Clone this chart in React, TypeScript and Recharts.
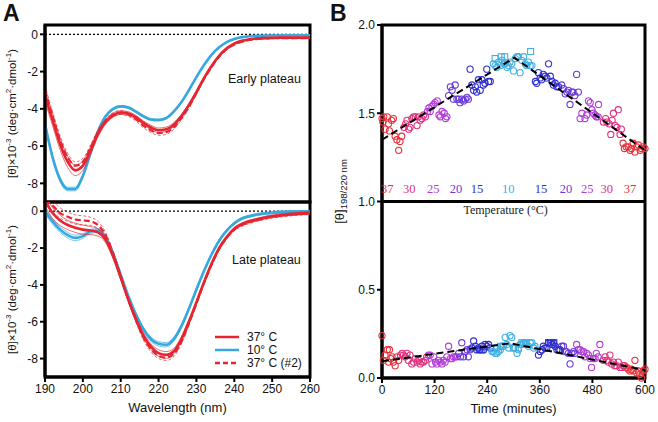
import React from "react";
import {
  LineChart,
  Line,
  XAxis,
  YAxis,
  ReferenceLine,
  ReferenceArea,
  ScatterChart,
  Scatter,
} from "recharts";

const FONT = '"Liberation Sans", Arial, sans-serif';
const SERIF = '"Liberation Serif", "DejaVu Serif", serif';
const RED = "#e52531";
const BLUE = "#36a8e0";

// ---- panel A: CD spectra ----
const wavelengths = [
  190, 192, 194, 196, 198, 200, 202, 204, 206, 208, 210, 212, 214, 216, 218, 220, 222, 224,
  226, 228, 230, 232, 234, 236, 238, 240, 242, 244, 246, 248, 250, 252, 254, 256, 258, 260,
];

const early37 = [
  -3.3, -4.6, -5.9, -6.85, -7.3, -7.05, -6.25, -5.35, -4.7, -4.35, -4.2, -4.25, -4.45, -4.75, -5.0, -5.15, -5.1, -4.85,
  -4.4, -3.8, -3.1, -2.35, -1.7, -1.15, -0.75, -0.5, -0.35, -0.27, -0.22, -0.2, -0.19, -0.18, -0.18, -0.18, -0.18, -0.18,
];
const early37Err = [
  0.3, 0.3, 0.3, 0.3, 0.28, 0.25, 0.2, 0.15, 0.12, 0.1, 0.1, 0.1, 0.1, 0.1, 0.12, 0.12, 0.12, 0.1,
  0.1, 0.08, 0.08, 0.06, 0.05, 0.05, 0.04, 0.04, 0.03, 0.03, 0.03, 0.03, 0.03, 0.03, 0.03, 0.03, 0.03, 0.03,
];
const early10 = [
  -4.8, -6.6, -7.8, -8.3, -8.3, -7.6, -6.4, -5.2, -4.4, -4.0, -3.87, -3.93, -4.15, -4.4, -4.57, -4.6, -4.5, -4.15,
  -3.65, -3.0, -2.3, -1.65, -1.1, -0.7, -0.42, -0.25, -0.15, -0.1, -0.08, -0.07, -0.06, -0.06, -0.05, -0.05, -0.05, -0.05,
];
const early10Err = [
  0.12, 0.12, 0.12, 0.1, 0.1, 0.1, 0.08, 0.06, 0.05, 0.05, 0.05, 0.05, 0.05, 0.05, 0.05, 0.05, 0.05, 0.05,
  0.04, 0.04, 0.04, 0.03, 0.03, 0.03, 0.02, 0.02, 0.02, 0.02, 0.02, 0.02, 0.02, 0.02, 0.02, 0.02, 0.02, 0.02,
];
const early37b = [
  -3.0, -4.4, -5.7, -6.6, -7.05, -6.85, -6.1, -5.25, -4.65, -4.3, -4.2, -4.3, -4.55, -4.9, -5.15, -5.3, -5.25, -5.0,
  -4.5, -3.9, -3.15, -2.4, -1.75, -1.2, -0.8, -0.55, -0.4, -0.3, -0.25, -0.22, -0.21, -0.2, -0.2, -0.2, -0.2, -0.2,
];
const early37bErr = [
  0.25, 0.25, 0.25, 0.22, 0.2, 0.18, 0.15, 0.12, 0.1, 0.1, 0.1, 0.1, 0.1, 0.12, 0.12, 0.12, 0.12, 0.1,
  0.1, 0.08, 0.06, 0.05, 0.05, 0.04, 0.04, 0.03, 0.03, 0.03, 0.03, 0.03, 0.03, 0.03, 0.03, 0.03, 0.03, 0.03,
];

const late37 = [
  0.6, -0.1, -0.5, -0.75, -0.9, -1.0, -1.05, -1.15, -1.55, -2.45, -3.6, -4.8, -5.85, -6.75, -7.35, -7.7, -7.8, -7.6,
  -6.95, -6.0, -4.95, -3.85, -2.85, -2.0, -1.4, -0.95, -0.7, -0.55, -0.45, -0.35, -0.28, -0.22, -0.18, -0.15, -0.12, -0.1,
];
const late37Err = [
  0.3, 0.3, 0.28, 0.25, 0.25, 0.25, 0.22, 0.2, 0.15, 0.12, 0.1, 0.1, 0.12, 0.15, 0.15, 0.18, 0.18, 0.15,
  0.12, 0.1, 0.1, 0.08, 0.08, 0.07, 0.07, 0.07, 0.07, 0.07, 0.07, 0.07, 0.07, 0.07, 0.07, 0.07, 0.07, 0.07,
];
const late10 = [
  0.0, -0.55, -1.0, -1.3, -1.45, -1.35, -1.1, -1.05, -1.4, -2.3, -3.45, -4.6, -5.6, -6.4, -6.95, -7.2, -7.25, -6.95,
  -6.25, -5.3, -4.25, -3.25, -2.35, -1.6, -1.05, -0.65, -0.4, -0.27, -0.18, -0.12, -0.08, -0.05, -0.03, -0.02, -0.02, -0.02,
];
const late10Err = [
  0.15, 0.15, 0.15, 0.15, 0.15, 0.12, 0.12, 0.1, 0.1, 0.08, 0.08, 0.08, 0.1, 0.1, 0.12, 0.12, 0.12, 0.1,
  0.1, 0.08, 0.08, 0.07, 0.07, 0.06, 0.06, 0.06, 0.06, 0.06, 0.06, 0.06, 0.06, 0.06, 0.06, 0.06, 0.06, 0.06,
];
const late37b = [
  0.6, 0.3, -0.1, -0.3, -0.45, -0.5, -0.55, -0.75, -1.3, -2.3, -3.55, -4.8, -5.9, -6.85, -7.5, -7.85, -7.95, -7.75,
  -7.1, -6.1, -5.0, -3.9, -2.9, -2.05, -1.45, -1.0, -0.75, -0.6, -0.48, -0.38, -0.3, -0.25, -0.2, -0.16, -0.13, -0.12,
];
const late37bErr = [
  0.3, 0.3, 0.28, 0.25, 0.25, 0.25, 0.22, 0.2, 0.15, 0.12, 0.1, 0.1, 0.12, 0.15, 0.15, 0.15, 0.15, 0.15,
  0.12, 0.1, 0.1, 0.08, 0.08, 0.07, 0.07, 0.07, 0.07, 0.07, 0.07, 0.07, 0.07, 0.07, 0.07, 0.07, 0.07, 0.07,
];

const wlTicks = [190, 200, 210, 220, 230, 240, 250, 260];
const cdTicks = [0, -2, -4, -6, -8];

function buildSpectra(r: number[], rE: number[], b: number[], bE: number[], d: number[], dE: number[]) {
  return wavelengths.map((w, i) => ({
    w,
    r: r[i], rHi: r[i] + rE[i], rLo: r[i] - rE[i],
    b: b[i], bHi: b[i] + bE[i], bLo: b[i] - bE[i],
    d: d[i], dHi: d[i] + dE[i], dLo: d[i] - dE[i],
  }));
}
const earlyData = buildSpectra(early37, early37Err, early10, early10Err, early37b, early37bErr);
const lateData = buildSpectra(late37, late37Err, late10, late10Err, late37b, late37bErr);

const legendItems = [
  { label: "37° C", color: RED, dash: undefined },
  { label: "10° C", color: BLUE, dash: undefined },
  { label: "37° C (#2)", color: RED, dash: "5 3" },
];

// ---- panel B: ratio over time ----
const top37: [number, number][] = [
  [0, 1.47], [2, 1.45], [4, 1.48], [7, 1.41], [12, 1.48], [15, 1.44], [17, 1.4], [22, 1.46], [26, 1.47], [30, 1.37],
  [34, 1.35], [38, 1.29], [41, 1.34], [45, 1.37],
  [550, 1.33], [553, 1.3], [557, 1.31], [562, 1.31], [566, 1.29], [569, 1.3], [573, 1.33], [577, 1.28], [581, 1.31],
  [585, 1.32], [589, 1.29], [592, 1.3], [596, 1.31], [600, 1.3],
];
const top30: [number, number][] = [
  [50, 1.42], [54, 1.44], [57, 1.46], [61, 1.41], [64, 1.42], [68, 1.47], [72, 1.48], [76, 1.48], [80, 1.43],
  [83, 1.48], [87, 1.46], [91, 1.47], [95, 1.49], [99, 1.48],
  [505, 1.45], [510, 1.47], [513, 1.45], [518, 1.44], [522, 1.38], [525, 1.46], [528, 1.5], [532, 1.43],
  [536, 1.42], [539, 1.52], [543, 1.38], [546, 1.41],
];
const top25: [number, number][] = [
  [104, 1.51], [107, 1.53], [110, 1.51], [114, 1.54], [118, 1.55], [121, 1.56], [126, 1.57], [130, 1.49],
  [133, 1.48], [137, 1.51], [142, 1.5], [145, 1.47], [148, 1.48],
  [452, 1.47], [456, 1.5], [463, 1.47], [467, 1.49], [471, 1.57], [475, 1.56], [479, 1.52], [482, 1.5],
  [486, 1.49], [489, 1.48], [493, 1.48], [494, 1.55],
];
const top20: [number, number][] = [
  [152, 1.6], [156, 1.65], [160, 1.63], [163, 1.58], [167, 1.66], [171, 1.58], [175, 1.58], [178, 1.56],
  [182, 1.58], [186, 1.57], [190, 1.58], [194, 1.59], [197, 1.58],
  [410, 1.66], [414, 1.64], [418, 1.61], [422, 1.62], [425, 1.63], [429, 1.55], [433, 1.62], [436, 1.62],
  [440, 1.6], [444, 1.72], [448, 1.62],
];
const top15: [number, number][] = [
  [201, 1.75], [205, 1.66], [209, 1.63], [213, 1.65], [216, 1.62], [220, 1.69], [224, 1.63], [228, 1.69],
  [231, 1.66], [235, 1.67], [239, 1.75], [243, 1.68], [247, 1.68],
  [350, 1.68], [353, 1.67], [357, 1.73], [361, 1.7], [364, 1.69], [368, 1.72], [372, 1.71], [376, 1.7],
  [380, 1.78], [384, 1.71], [388, 1.68], [391, 1.66], [395, 1.67], [399, 1.65], [403, 1.65],
];
const top10: [number, number][] = [
  [254, 1.78], [258, 1.77], [262, 1.76], [266, 1.79], [270, 1.77], [274, 1.8], [278, 1.78], [281, 1.78],
  [285, 1.76], [288, 1.77], [292, 1.79], [296, 1.78], [300, 1.74], [304, 1.81], [308, 1.82], [311, 1.82],
  [315, 1.73], [319, 1.8], [323, 1.82], [327, 1.78], [330, 1.77], [334, 1.79], [338, 1.77], [342, 1.77],
];
const top10Squares: [number, number][] = [[258, 1.81], [272, 1.82], [280, 1.82], [339, 1.85]];

const bot37: [number, number][] = [
  [0, 0.24], [3, 0.1], [7, 0.13], [12, 0.16], [15, 0.09], [17, 0.16], [20, 0.11], [23, 0.12], [26, 0.09],
  [30, 0.07], [34, 0.12], [38, 0.1],
  [553, 0.07], [558, 0.06], [562, 0.05], [566, 0.04], [569, 0.05], [573, 0.04], [577, 0.1], [581, 0.03],
  [585, 0.04], [588, 0.02], [592, 0.0], [596, 0.04], [600, 0.05],
];
const bot30: [number, number][] = [
  [42, 0.13], [46, 0.14], [49, 0.13], [53, 0.12], [57, 0.14], [60, 0.1], [64, 0.13], [68, 0.08], [72, 0.09],
  [76, 0.11], [80, 0.09], [84, 0.1], [87, 0.08], [91, 0.09], [95, 0.09], [99, 0.1], [102, 0.12],
  [505, 0.1], [509, 0.12], [513, 0.1], [516, 0.09], [520, 0.13], [524, 0.08], [528, 0.09], [531, 0.07],
  [535, 0.07], [539, 0.09], [543, 0.06], [547, 0.06], [550, 0.07],
];
const bot25: [number, number][] = [
  [106, 0.13], [110, 0.13], [114, 0.08], [118, 0.12], [122, 0.09], [125, 0.08], [129, 0.1], [133, 0.09],
  [137, 0.08], [140, 0.1], [144, 0.09], [148, 0.12], [152, 0.18], [156, 0.11], [160, 0.11], [163, 0.12],
  [167, 0.12], [171, 0.12],
  [444, 0.19], [448, 0.16], [452, 0.16], [456, 0.15], [460, 0.15], [463, 0.12], [467, 0.14], [471, 0.13],
  [475, 0.11], [478, 0.06], [482, 0.11], [486, 0.11], [489, 0.14], [493, 0.12], [497, 0.19],
];
const bot20: [number, number][] = [
  [175, 0.14], [179, 0.12], [182, 0.2], [186, 0.12], [190, 0.15], [194, 0.16], [197, 0.12], [201, 0.16],
  [410, 0.18], [414, 0.18], [418, 0.15], [421, 0.15], [425, 0.14], [429, 0.08], [433, 0.14], [437, 0.15], [440, 0.14],
];
const bot15: [number, number][] = [
  [205, 0.17], [209, 0.21], [213, 0.18], [216, 0.16], [220, 0.17], [224, 0.16], [228, 0.18], [232, 0.16],
  [235, 0.19], [239, 0.18], [243, 0.19], [247, 0.17],
  [357, 0.13], [361, 0.15], [365, 0.16], [368, 0.18], [372, 0.17], [376, 0.17], [380, 0.2], [384, 0.2],
  [388, 0.19], [391, 0.2], [395, 0.18], [399, 0.16], [403, 0.16], [406, 0.16],
];
const bot10: [number, number][] = [
  [251, 0.15], [254, 0.15], [258, 0.14], [262, 0.14], [266, 0.15], [270, 0.16], [273, 0.18], [277, 0.18],
  [281, 0.23], [285, 0.19], [289, 0.17], [292, 0.24], [296, 0.23], [300, 0.17], [304, 0.17], [308, 0.14],
  [311, 0.16], [315, 0.19], [319, 0.19], [323, 0.2], [327, 0.2], [330, 0.19], [334, 0.18], [338, 0.2],
  [342, 0.2], [346, 0.17], [349, 0.18],
];
const bot10Squares: [number, number][] = [[262, 0.17], [270, 0.18], [300, 0.17], [311, 0.17], [319, 0.2], [327, 0.2]];
const bot15Squares: [number, number][] = [[222, 0.16], [228, 0.16], [380, 0.2], [386, 0.2], [392, 0.2]];

const fitTop: [number, number][] = [[0, 1.35], [302, 1.815], [600, 1.29]];
const fitBottom: [number, number][] = [[0, 0.095], [292, 0.197], [600, 0.045]];

const tempColors: Record<string, string> = {
  "37": "#e8303a",
  "30": "#e0307e",
  "25": "#b23bd8",
  "20": "#6a3ad8",
  "15": "#2f2fcf",
  "10": "#3fb0e2",
};
const tempLabels = ["37", "30", "25", "20", "15", "10", "15", "20", "25", "30", "37"];
const tempLabelTimes = [12, 62, 117, 169, 217, 288, 363, 420, 468, 513, 566];
const tempLabelLevel = 1.068;

const timeTicks = [0, 120, 240, 360, 480, 600];
const ratioTicks = [0, 0.5, 1, 1.5, 2];

const pts = (a: [number, number][]) => a.map(([t, v]) => ({ t, v }));

const tickStyle = { fill: "#111", fontSize: 12, fontFamily: FONT };
const axisLine = { stroke: "#000", strokeWidth: 3 };
const tickLine = { stroke: "#000", strokeWidth: 2 };

function CdLabel({ viewBox }: any) {
  const x = 12;
  const y = viewBox.y + viewBox.height / 2;
  return (
    <text
      x={x}
      y={y}
      transform={`rotate(-90 ${x} ${y})`}
      textAnchor="middle"
      dominantBaseline="central"
      fontSize={11.5}
      fontFamily={FONT}
      fill="#111"
    >
      [θ]×10<tspan dy={-4} fontSize={8}>-3</tspan>
      <tspan dy={4}> (deg·cm</tspan>
      <tspan dy={-4} fontSize={8}>2</tspan>
      <tspan dy={4}>·dmol</tspan>
      <tspan dy={-4} fontSize={8}>-1</tspan>
      <tspan dy={4}>)</tspan>
    </text>
  );
}

function RatioLabel({ viewBox }: any) {
  const x = 9;
  const y = viewBox.y + viewBox.height / 2 - 10;
  return (
    <text
      x={x}
      y={y}
      transform={`rotate(-90 ${x} ${y})`}
      textAnchor="middle"
      dominantBaseline="central"
      fontSize={13}
      fontFamily={FONT}
      fill="#111"
    >
      [θ]<tspan dy={3.5} fontSize={9.5}>198/220 nm</tspan>
    </text>
  );
}

function BottomLabel({ viewBox, text }: any) {
  return (
    <text
      x={viewBox.x + viewBox.width / 2}
      y={viewBox.y + 35}
      textAnchor="middle"
      fontSize={13}
      fontFamily={FONT}
      fill="#111"
    >
      {text}
    </text>
  );
}

function TempTitle({ viewBox }: any) {
  return (
    <text
      x={viewBox.x + viewBox.width * 0.47}
      y={viewBox.y + 12}
      textAnchor="middle"
      fontSize={12}
      fontFamily={SERIF}
      fill="#222"
    >
      Temperature (°C)
    </text>
  );
}

function SpectraLines() {
  const thin = (key: string, color: string, dash?: string) => (
    <Line
      key={key}
      type="monotone"
      dataKey={key}
      stroke={color}
      strokeWidth={0.8}
      strokeOpacity={0.85}
      strokeDasharray={dash}
      dot={false}
      isAnimationActive={false}
    />
  );
  return [
    thin("bHi", BLUE),
    thin("bLo", BLUE),
    <Line key="b" type="monotone" dataKey="b" stroke={BLUE} strokeWidth={2.6} dot={false} isAnimationActive={false} />,
    thin("rHi", RED),
    thin("rLo", RED),
    <Line key="r" type="monotone" dataKey="r" stroke={RED} strokeWidth={2.6} dot={false} isAnimationActive={false} />,
    thin("dHi", RED, "3 2"),
    thin("dLo", RED, "3 2"),
    <Line key="d" type="monotone" dataKey="d" stroke={RED} strokeWidth={2.2} strokeDasharray="6 3" dot={false} isAnimationActive={false} />,
  ];
}

function dotShape(color: string, square = false) {
  return (props: any) => {
    const { cx, cy } = props;
    if (cx == null || cy == null) return <g />;
    return square ? (
      <rect x={cx - 3} y={cy - 3} width={6} height={6} fill="none" stroke={color} strokeWidth={1.1} />
    ) : (
      <circle cx={cx} cy={cy} r={3.1} fill="none" stroke={color} strokeWidth={1.1} />
    );
  };
}

function tempTextShape(props: any) {
  const { cx, cy, payload } = props;
  return (
    <text
      x={cx}
      y={cy}
      textAnchor="middle"
      dominantBaseline="central"
      fontSize={12.5}
      fontFamily={SERIF}
      fill={tempColors[payload.label]}
    >
      {payload.label}
    </text>
  );
}

export default function App() {
  const tempData = tempLabels.map((label, i) => ({ t: tempLabelTimes[i], v: tempLabelLevel, label }));
  const series: [string, [number, number][], [number, number][]][] = [
    ["37", top37, bot37],
    ["30", top30, bot30],
    ["25", top25, bot25],
    ["20", top20, bot20],
    ["15", top15, bot15],
    ["10", top10, bot10],
  ];

  return (
    <div style={{ position: "absolute", left: 0, top: 0, width: 658, height: 422, background: "#fff", fontFamily: FONT }}>
      {/* A - early plateau */}
      <div style={{ position: "absolute", left: 0, top: 0 }}>
        <LineChart width={330} height={210} data={earlyData} margin={{ top: 25, right: 20, bottom: 8, left: 10 }}>
          <XAxis dataKey="w" type="number" domain={[190, 260]} ticks={wlTicks} hide />
          <YAxis
            type="number"
            domain={[-9, 0.5]}
            ticks={cdTicks}
            width={35}
            tick={tickStyle}
            tickLine={tickLine}
            tickSize={5}
            axisLine={axisLine}
            allowDataOverflow
            label={<CdLabel />}
          />
          <ReferenceLine y={0} stroke="#000" strokeWidth={1.3} strokeDasharray="2 2" />
          {SpectraLines()}
          <ReferenceArea x1={190} x2={260} y1={-9} y2={0.5} fill="none" stroke="#000" strokeWidth={3} />
        </LineChart>
      </div>

      {/* A - late plateau */}
      <div style={{ position: "absolute", left: 0, top: 0 }}>
        <LineChart width={330} height={422} data={lateData} margin={{ top: 202, right: 20, bottom: 0, left: 10 }}>
          <XAxis
            dataKey="w"
            type="number"
            domain={[190, 260]}
            ticks={wlTicks}
            height={45}
            tick={tickStyle}
            tickLine={tickLine}
            tickSize={5}
            axisLine={axisLine}
            label={<BottomLabel text="Wavelength (nm)" />}
          />
          <YAxis
            type="number"
            domain={[-9, 0.5]}
            ticks={cdTicks}
            width={35}
            tick={tickStyle}
            tickLine={tickLine}
            tickSize={5}
            axisLine={axisLine}
            allowDataOverflow
            label={<CdLabel />}
          />
          <ReferenceLine y={0} stroke="#000" strokeWidth={1.3} strokeDasharray="2 2" />
          {SpectraLines()}
          <ReferenceArea x1={190} x2={260} y1={-9} y2={0.5} fill="none" stroke="#000" strokeWidth={3} />
        </LineChart>
      </div>

      {/* B */}
      <div style={{ position: "absolute", left: 330, top: 0 }}>
        <ScatterChart width={328} height={422} margin={{ top: 25, right: 13, bottom: 0, left: 12 }}>
          <XAxis
            dataKey="t"
            type="number"
            domain={[0, 600]}
            ticks={timeTicks}
            height={44}
            tick={tickStyle}
            tickLine={tickLine}
            tickSize={5}
            axisLine={axisLine}
            label={<BottomLabel text="Time (minutes)" />}
          />
          <YAxis
            dataKey="v"
            type="number"
            domain={[0, 2]}
            ticks={ratioTicks}
            width={40}
            tick={tickStyle}
            tickLine={tickLine}
            tickSize={5}
            axisLine={axisLine}
            tickFormatter={(v: number) => v.toFixed(1)}
            label={<RatioLabel />}
          />
          <ReferenceArea x1={0} x2={600} y1={0} y2={2} fill="none" stroke="#000" strokeWidth={3} />
          <ReferenceLine y={1} stroke="#000" strokeWidth={3} label={<TempTitle />} />
          {series.map(([temp, top]) => (
            <Scatter key={"t" + temp} data={pts(top)} shape={dotShape(tempColors[temp])} isAnimationActive={false} />
          ))}
          {series.map(([temp, , bot]) => (
            <Scatter key={"b" + temp} data={pts(bot)} shape={dotShape(tempColors[temp])} isAnimationActive={false} />
          ))}
          <Scatter data={pts(top10Squares)} shape={dotShape(tempColors["10"], true)} isAnimationActive={false} />
          <Scatter data={pts(bot10Squares)} shape={dotShape(tempColors["10"], true)} isAnimationActive={false} />
          <Scatter data={pts(bot15Squares)} shape={dotShape(tempColors["15"], true)} isAnimationActive={false} />
          <Scatter
            data={pts(fitTop)}
            shape={() => <g />}
            line={{ stroke: "#000", strokeWidth: 2, strokeDasharray: "7 4" }}
            isAnimationActive={false}
          />
          <Scatter
            data={pts(fitBottom)}
            shape={() => <g />}
            line={{ stroke: "#000", strokeWidth: 2, strokeDasharray: "7 4" }}
            isAnimationActive={false}
          />
          <Scatter data={tempData} shape={tempTextShape} isAnimationActive={false} />
        </ScatterChart>
      </div>

      {/* annotations */}
      <div style={{ position: "absolute", left: 228, top: 72, fontSize: 12.5, color: "#111" }}>Early plateau</div>
      <div style={{ position: "absolute", left: 232, top: 253, fontSize: 12.5, color: "#111" }}>Late plateau</div>
      <div style={{ position: "absolute", left: 215, top: 330, fontSize: 12, color: "#111" }}>
        {legendItems.map((it) => (
          <div key={it.label} style={{ display: "flex", alignItems: "center", height: 13 }}>
            <svg width={24} height={4}>
              <line x1={0} x2={24} y1={2} y2={2} stroke={it.color} strokeWidth={2.5} strokeDasharray={it.dash} />
            </svg>
            <span style={{ marginLeft: 8 }}>{it.label}</span>
          </div>
        ))}
      </div>
      <div style={{ position: "absolute", left: 3, top: 0, fontSize: 23, fontWeight: 700, color: "#111" }}>A</div>
      <div style={{ position: "absolute", left: 330, top: 0, fontSize: 23, fontWeight: 700, color: "#111" }}>B</div>
    </div>
  );
}
